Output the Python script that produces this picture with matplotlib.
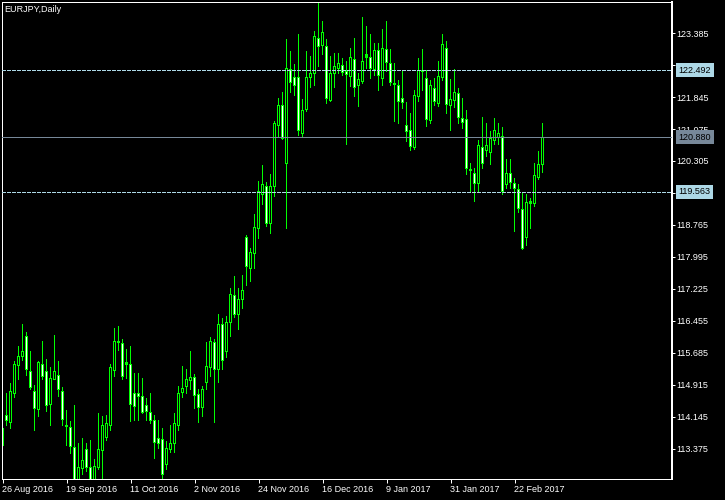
import matplotlib
matplotlib.use('Agg')
import matplotlib.pyplot as plt
import pandas as pd

plt.rcParams['font.family'] = 'Liberation Sans'
plt.rcParams['font.size'] = 6.5

# daily EURJPY candles
opens = [
    113.45, 114.17, 114.01, 114.72, 115.39, 115.60, 116.09, 115.24, 114.75, 114.33,
    115.42, 115.23, 114.44, 115.05, 115.15, 114.76, 113.93, 113.90, 113.42, 112.61,
    112.91, 113.37, 112.94, 112.61, 112.94, 113.35, 113.66, 113.95, 115.26, 115.97,
    115.92, 115.41, 115.40, 114.70, 114.70, 114.63, 114.42, 114.26, 114.05, 113.63,
    113.61, 113.01, 113.37, 113.50, 113.95, 114.73, 114.87, 115.02, 115.10, 114.69,
    114.37, 114.97, 115.34, 115.93, 115.29, 116.36, 115.72, 116.42, 117.06, 116.62,
    116.98, 118.47, 117.72, 118.08, 118.69, 119.50, 119.70, 118.79, 119.69, 121.15,
    121.63, 120.25, 122.51, 122.32, 122.32, 120.97, 121.55, 122.32, 122.40, 123.26,
    123.08, 123.06, 121.76, 122.40, 122.54, 122.60, 122.47, 122.33, 122.75, 122.12,
    122.21, 122.80, 122.80, 122.51, 122.96, 122.30, 122.99, 122.66, 122.16, 122.11,
    121.81, 121.16, 121.03, 120.63, 121.85, 122.45, 122.30, 121.27, 122.05, 121.69,
    122.32, 123.02, 121.63, 121.77, 121.93, 121.33, 121.31, 120.09, 120.01, 119.77,
    120.63, 120.55, 120.50, 120.81, 120.88, 120.89, 119.74, 120.01, 119.77, 119.62,
    119.14, 118.47, 119.29, 119.29, 119.91, 120.23,
]
highs = [
    113.90, 114.72, 114.96, 115.48, 115.85, 116.38, 116.19, 115.71, 114.91, 115.48,
    115.97, 115.52, 115.34, 116.11, 115.47, 114.86, 114.31, 114.03, 114.43, 113.51,
    113.63, 113.51, 113.59, 113.13, 114.22, 114.15, 114.17, 115.40, 116.28, 116.32,
    116.00, 115.76, 115.84, 115.20, 115.18, 115.08, 114.60, 114.72, 114.19, 114.07,
    113.87, 113.55, 113.93, 114.23, 114.89, 115.36, 115.29, 115.71, 115.16, 114.80,
    114.87, 115.93, 116.05, 116.00, 116.60, 116.52, 116.56, 117.24, 117.52, 117.24,
    117.54, 118.52, 118.19, 119.01, 119.81, 120.19, 119.78, 119.99, 121.25, 121.81,
    121.95, 123.22, 122.95, 122.62, 123.36, 121.79, 122.94, 122.83, 123.43, 124.11,
    123.66, 123.22, 122.83, 122.90, 122.90, 122.78, 122.69, 123.02, 123.26, 122.40,
    123.75, 123.54, 123.36, 123.14, 123.14, 123.47, 123.65, 122.98, 122.64, 122.25,
    122.45, 121.71, 121.44, 122.01, 122.78, 122.98, 122.49, 122.25, 122.30, 122.69,
    123.34, 123.18, 122.27, 122.51, 122.05, 121.80, 121.53, 120.25, 120.13, 120.81,
    121.36, 121.20, 121.01, 121.32, 121.20, 121.12, 120.33, 120.35, 119.89, 119.75,
    119.53, 119.49, 119.41, 120.25, 120.53, 121.20,
]
lows = [
    113.42, 113.95, 113.87, 114.62, 115.04, 115.50, 115.15, 114.81, 113.82, 114.15,
    115.04, 114.27, 113.95, 115.04, 114.65, 113.95, 113.47, 113.27, 112.44, 112.48,
    112.75, 112.83, 112.44, 112.51, 112.89, 112.58, 113.58, 113.83, 115.12, 115.74,
    115.05, 115.08, 114.03, 114.06, 114.06, 114.22, 114.05, 113.99, 113.15, 113.39,
    112.67, 112.87, 113.29, 113.29, 113.83, 114.62, 114.72, 114.80, 114.35, 114.02,
    114.15, 114.80, 115.12, 114.02, 114.97, 115.29, 115.58, 116.09, 116.54, 116.26,
    116.76, 117.30, 117.40, 117.71, 118.45, 119.27, 118.72, 118.55, 119.46, 120.89,
    120.83, 118.69, 121.95, 121.89, 120.91, 120.89, 121.49, 122.08, 122.13, 122.57,
    122.86, 121.69, 121.73, 122.07, 122.40, 122.37, 120.71, 122.09, 121.85, 121.61,
    122.18, 122.54, 122.30, 122.37, 122.01, 122.13, 122.45, 122.11, 121.25, 121.20,
    121.57, 120.77, 120.55, 120.57, 121.73, 122.01, 121.13, 121.20, 121.63, 121.61,
    122.24, 121.44, 121.03, 121.60, 121.21, 121.09, 119.97, 119.54, 119.33, 119.54,
    120.13, 120.41, 120.21, 120.71, 120.69, 119.49, 119.65, 119.65, 118.60, 119.06,
    118.18, 118.26, 118.69, 119.22, 119.86, 120.02,
]
closes = [
    113.86, 114.06, 114.75, 115.42, 115.61, 115.73, 115.29, 114.86, 114.35, 115.45,
    115.13, 114.43, 115.08, 115.25, 114.80, 114.09, 113.91, 113.43, 112.58, 112.94,
    113.11, 112.94, 112.58, 112.95, 113.37, 113.93, 113.98, 115.34, 115.97, 115.94,
    115.12, 115.45, 114.45, 114.39, 114.63, 114.25, 114.27, 114.05, 113.53, 113.51,
    112.75, 113.39, 113.50, 113.98, 114.72, 114.84, 115.04, 115.10, 114.66, 114.37,
    114.81, 115.37, 115.97, 115.29, 116.36, 115.50, 116.42, 117.10, 116.60, 116.98,
    117.20, 117.76, 118.11, 118.71, 119.57, 119.74, 118.81, 119.69, 121.20, 121.63,
    120.85, 122.54, 122.19, 122.13, 121.03, 121.53, 122.32, 122.40, 123.31, 123.06,
    123.40, 121.80, 122.42, 122.57, 122.66, 122.44, 122.39, 122.80, 122.07, 122.27,
    122.71, 122.86, 122.54, 122.96, 122.37, 123.02, 122.67, 122.19, 122.15, 121.73,
    121.71, 121.01, 120.65, 121.87, 122.48, 122.48, 121.31, 122.13, 121.73, 122.35,
    123.10, 121.67, 121.79, 121.96, 121.36, 121.24, 120.13, 120.08, 119.77, 120.69,
    120.25, 120.67, 120.85, 121.03, 120.97, 119.57, 120.01, 119.78, 119.65, 119.17,
    118.20, 119.31, 119.34, 119.96, 120.23, 120.88,
]

dates = pd.bdate_range('2016-08-26', periods=len(closes))
price_ticks = [113.375, 114.145, 114.915, 115.685, 116.455, 117.225, 117.995,
               118.765, 119.535, 120.305, 121.075, 121.845, 122.615, 123.385]
dashed_levels = [122.492, 119.563]
bid = 120.880

GREEN = '#00ff00'
LEVEL_BLUE = '#add8e6'
BID_GRAY = '#778899'
PX = 0.72  # one pixel in points at dpi 100

YLO, YHI = 112.653, 124.131
fig = plt.figure(figsize=(7.25, 5.0), dpi=100, facecolor='black')
ax = fig.add_axes([2 / 725, 21 / 500, 670 / 725, 477 / 500])
ax.set_facecolor('black')
ypx = (YHI - YLO) / 477  # price per screen pixel

idx = list(range(len(closes)))

# wicks, then a 3px green body, then a 1px interior
# (black = up, white = down, as in MT4 "green on black")
ax.vlines(idx, lows, highs, color=GREEN, linewidth=PX, zorder=2,
          antialiased=False, snap=False)
bot = [min(o, c) for o, c in zip(opens, closes)]
hgt = [max(abs(c - o), ypx) for o, c in zip(opens, closes)]
ax.bar(idx, hgt, bottom=bot, width=0.75, color=GREEN, linewidth=0,
       zorder=2.2, antialiased=False, snap=False)
inner = [(i, b + ypx, h - 2 * ypx, 'black' if c > o else 'white')
         for i, b, h, o, c in zip(idx, bot, hgt, opens, closes) if h > 2.5 * ypx]
ax.bar([t[0] for t in inner], [t[2] for t in inner], bottom=[t[1] for t in inner],
       width=0.25, color=[t[3] for t in inner], linewidth=0, zorder=2.4,
       antialiased=False, snap=False)

# horizontal levels
for lv in dashed_levels:
    ax.axhline(lv, color=LEVEL_BLUE, linewidth=PX, linestyle=(0, (3, 2)), zorder=3,
               antialiased=False)
ax.axhline(bid, color=BID_GRAY, linewidth=PX, zorder=3, antialiased=False)

ax.set_xlim(-0.125, 167.375)
ax.set_ylim(YLO, YHI)

# price scale on the right
ax.yaxis.tick_right()
ax.set_yticks(price_ticks)
ax.set_yticklabels([f'{p:.3f}' for p in price_ticks])
ax.tick_params(axis='y', colors='white', length=3 * PX, width=PX, pad=PX,
               labelsize=6.5)

# time scale
xt = idx[::16]
ax.set_xticks(xt)
ax.set_xticklabels([f'{dates[i].day} {dates[i].strftime("%b %Y")}' for i in xt])
ax.tick_params(axis='x', colors='white', length=4 * PX, width=PX, pad=1.5 * PX,
               labelsize=6.5)
for lab in ax.get_xticklabels():
    lab.set_horizontalalignment('left')

for side in ['left', 'top', 'bottom']:
    ax.spines[side].set_color('white')
    ax.spines[side].set_linewidth(PX)
ax.spines['right'].set_color('white')
ax.spines['right'].set_linewidth(2 * PX)

# price tags for the level lines
ytr = ax.get_yaxis_transform()
for lv in dashed_levels:
    ax.text(1.0095, lv, f'{lv:.3f}', transform=ytr, color='black', fontsize=6.5,
            va='center', ha='left', clip_on=False, zorder=5,
            bbox=dict(boxstyle='square,pad=0.3', facecolor=LEVEL_BLUE, edgecolor='none'))
ax.text(1.0095, bid, f'{bid:.3f}', transform=ytr, color='black', fontsize=6.5,
        va='center', ha='left', clip_on=False, zorder=5,
        bbox=dict(boxstyle='square,pad=0.3', facecolor=BID_GRAY, edgecolor='none'))

ax.text(0.004, 0.993, 'EURJPY,Daily', transform=ax.transAxes, color='white',
        fontsize=6.5, va='top', ha='left')

fig.savefig('out.png', dpi=100, facecolor='black')
